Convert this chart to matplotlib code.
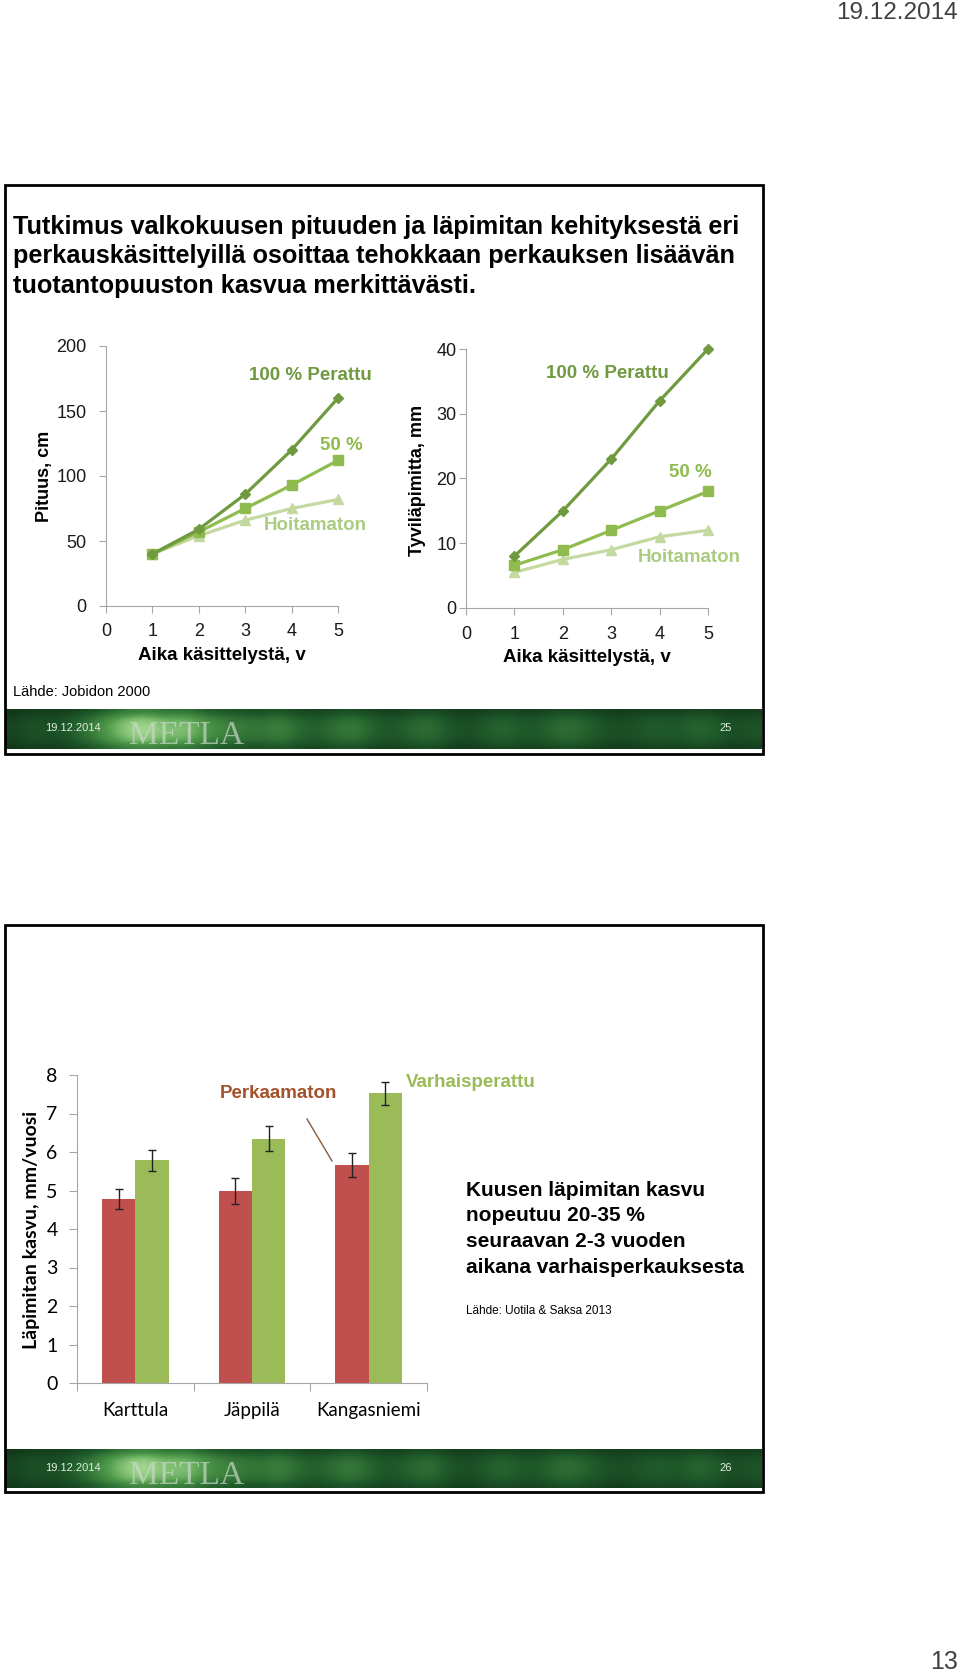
import matplotlib
matplotlib.use('Agg')
import matplotlib.pyplot as plt
import matplotlib.patches as patches
from matplotlib.colors import LinearSegmentedColormap
import numpy as np

plt.rcParams['font.family'] = ['Liberation Sans', 'DejaVu Sans']

W, H = 960, 1676

# --- data: slide 25 (Jobidon 2000) ---
years = [1, 2, 3, 4, 5]
height_100 = [40, 59, 86, 120, 160]
height_50 = [40, 57, 75, 93, 112]
height_0 = [40, 54, 66, 75, 82]
diam_100 = [8, 15, 23, 32, 40]
diam_50 = [6.6, 9, 12, 15, 18]
diam_0 = [5.5, 7.5, 9, 11, 12]

# --- data: slide 26 (Uotila & Saksa 2013) ---
sites = ['Karttula', 'Jäppilä', 'Kangasniemi']
growth_unweeded = [4.77, 4.99, 5.67]
err_unweeded = [0.26, 0.34, 0.31]
growth_weeded = [5.78, 6.35, 7.52]
err_weeded = [0.27, 0.33, 0.31]

# footer streak brightness (decoration only)
streaks = [0.2, 0.3, 0.25, 0.35, 0.5, 0.7, 0.9, 0.95, 0.8, 0.85, 0.65, 0.55,
           0.5, 0.45, 0.55, 0.4, 0.35, 0.45, 0.5, 0.35, 0.3, 0.4, 0.45, 0.3,
           0.25, 0.35, 0.4, 0.3, 0.35, 0.45, 0.4, 0.3, 0.25, 0.3, 0.35, 0.3,
           0.4, 0.35, 0.25, 0.3]

C100, C50, C0 = '#6f9a3f', '#8fbb4f', '#c3d9a0'
RED, GREEN = '#c0504d', '#9bbb59'
AXC = '#a6a6a6'

fig = plt.figure(figsize=(W / 100, H / 100), dpi=100)
fig.patch.set_facecolor('white')


def px_axes(x0, y0, x1, y1):
    return fig.add_axes([x0 / W, 1 - y1 / H, (x1 - x0) / W, (y1 - y0) / H])


def ftext(x, y, s, **kw):
    fig.text(x / W, 1 - y / H, s, **kw)


def slide_box(y0, y1):
    rect = patches.Rectangle((5 / W, 1 - y1 / H), 758 / W, (y1 - y0) / H,
                             transform=fig.transFigure, fill=False,
                             edgecolor='black', linewidth=2)
    fig.add_artist(rect)


cmap = LinearSegmentedColormap.from_list('metla', ['#0a2410', '#1f5a2a', '#4f9a4a', '#b8e8a0'])
vprof = np.array([0.55, 0.8, 0.95, 1.0, 1.0, 0.95, 0.85, 0.6])


def footer(y0, y1, page):
    ax = px_axes(6, y0, 762, y1)
    img = vprof[:, None] * np.array(streaks)[None, :]
    ax.imshow(img, cmap=cmap, aspect='auto', vmin=0, vmax=1, interpolation='bicubic')
    ax.set_axis_off()
    ym = (y0 + y1) / 2
    ftext(73, ym - 1, '19.12.2014', fontsize=8, color='#dfeedf', ha='center', va='center')
    ftext(726, ym - 1, page, fontsize=8, color='#dfeedf', ha='center', va='center')
    ftext(187, ym + 7, 'METLA', fontsize=24, color='#c8d8c8', alpha=0.7,
          family='Liberation Serif', ha='center', va='center')


def line_panel(ax, s100, s50, s0, ymax, ystep):
    ax.plot(years, s0, color=C0, lw=2.3, marker='^', ms=7, zorder=2)
    ax.plot(years, s50, color=C50, lw=2.3, marker='s', ms=7, zorder=3)
    ax.plot(years, s100, color=C100, lw=2.3, marker='D', ms=5, zorder=4)
    ax.set_xlim(0, 5)
    ax.set_ylim(0, ymax)
    ax.set_xticks(range(0, 6))
    ax.set_yticks(np.arange(0, ymax + 1, ystep))
    for s in ['top', 'right']:
        ax.spines[s].set_visible(False)
    for s in ['left', 'bottom']:
        ax.spines[s].set_color(AXC)
    ax.tick_params(colors=AXC, labelcolor='#1a1a1a', labelsize=13, length=5)
    ax.set_facecolor('none')
    for ln in ax.lines:
        ln.set_clip_on(False)


# ---------------- slide 25 ----------------
slide_box(185, 754)
for i, line in enumerate(['Tutkimus valkokuusen pituuden ja läpimitan kehityksestä eri',
                          'perkauskäsittelyillä osoittaa tehokkaan perkauksen lisäävän',
                          'tuotantopuuston kasvua merkittävästi.']):
    ftext(13, 227 + 29.5 * i, line, fontsize=18.2, fontweight='bold', color='black', va='center')

ax1 = px_axes(106, 346, 338, 606)
line_panel(ax1, height_100, height_50, height_0, 200, 50)
ax1.tick_params(axis='y', pad=9)
ax1.tick_params(axis='x', pad=7)
ax1.set_xlabel('Aika käsittelystä, v', fontsize=13.5, fontweight='bold', labelpad=5)
ftext(45, 476, 'Pituus, cm', fontsize=13, fontweight='bold', rotation=90, ha='center', va='center')
ftext(310, 375, '100 % Perattu', fontsize=13.5, fontweight='bold', color=C100, ha='center', va='center')
ftext(341, 445, '50 %', fontsize=13.5, fontweight='bold', color=C50, ha='center', va='center')
ftext(315, 526, 'Hoitamaton', fontsize=13.5, fontweight='bold', color='#aacb80', ha='center', va='center')

ax2 = px_axes(466, 349, 708, 608)
line_panel(ax2, diam_100, diam_50, diam_0, 40, 10)
ax2.tick_params(axis='y', pad=2)
ax2.tick_params(axis='x', pad=8)
ax2.set_xlabel('Aika käsittelystä, v', fontsize=13.5, fontweight='bold', labelpad=4.5)
ftext(417, 480, 'Tyviläpimitta, mm', fontsize=13, fontweight='bold', rotation=90, ha='center', va='center')
ftext(607, 374, '100 % Perattu', fontsize=13.5, fontweight='bold', color=C100, ha='center', va='center')
ftext(690, 472, '50 %', fontsize=13.5, fontweight='bold', color=C50, ha='center', va='center')
ftext(689, 557, 'Hoitamaton', fontsize=13.5, fontweight='bold', color='#aacb80', ha='center', va='center')

ftext(13, 692, 'Lähde: Jobidon 2000', fontsize=10.5, color='black', va='center')
footer(709, 749, '25')

# ---------------- slide 26 ----------------
slide_box(925, 1492)
ax3 = px_axes(77, 1075, 427, 1383)
x = np.arange(len(sites))
bw = 0.2857
ax3.bar(x - bw / 2, growth_unweeded, bw, color=RED, yerr=err_unweeded,
        error_kw=dict(ecolor='#222222', elinewidth=1, capsize=3, capthick=1))
ax3.bar(x + bw / 2, growth_weeded, bw, color=GREEN, yerr=err_weeded,
        error_kw=dict(ecolor='#222222', elinewidth=1, capsize=3, capthick=1))
ax3.set_xlim(-0.5, 2.5)
ax3.set_ylim(0, 8)
ax3.set_yticks(range(0, 9))
ax3.set_xticks([-0.5, 0.5, 1.5, 2.5])
ax3.set_xticklabels([])
ax3.set_xticks(x, minor=True)
ax3.set_xticklabels(sites, minor=True, fontsize=13.5, family='Lato')
ax3.tick_params(axis='x', which='minor', length=0, pad=14)
ax3.tick_params(axis='x', which='major', length=6, color=AXC)
ax3.tick_params(axis='y', length=6, color=AXC, pad=8, labelsize=14)
for lab in ax3.get_yticklabels():
    lab.set_family('Lato')
for s in ['top', 'right']:
    ax3.spines[s].set_visible(False)
for s in ['left', 'bottom']:
    ax3.spines[s].set_color(AXC)
ftext(32, 1230, 'Läpimitan kasvu, mm/vuosi', fontsize=14, fontweight='bold', family='Lato',
      rotation=90, ha='center', va='center')

ftext(278, 1094, 'Perkaamaton', fontsize=13.5, fontweight='bold', color='#a4522a', ha='center', va='center')
ftext(406, 1082, 'Varhaisperattu', fontsize=13.5, fontweight='bold', color=GREEN, ha='left', va='center')
fig.add_artist(plt.Line2D([307 / W, 332 / W], [1 - 1119 / H, 1 - 1161 / H],
                          transform=fig.transFigure, color='#8a5a3a', lw=1))

for i, line in enumerate(['Kuusen läpimitan kasvu', 'nopeutuu 20-35 %',
                          'seuraavan 2-3 vuoden', 'aikana varhaisperkauksesta']):
    ftext(466, 1190 + 25.7 * i, line, fontsize=15, fontweight='bold', color='black', va='center')
ftext(466, 1311, 'Lähde: Uotila & Saksa 2013', fontsize=8.5, color='black', va='center')
footer(1449, 1488, '26')

# page decorations
ftext(958, 13, '19.12.2014', fontsize=17.5, color='#404040', ha='right', va='center')
ftext(958, 1662, '13', fontsize=18, color='#404040', ha='right', va='center')

fig.savefig('out.png', dpi=100)
